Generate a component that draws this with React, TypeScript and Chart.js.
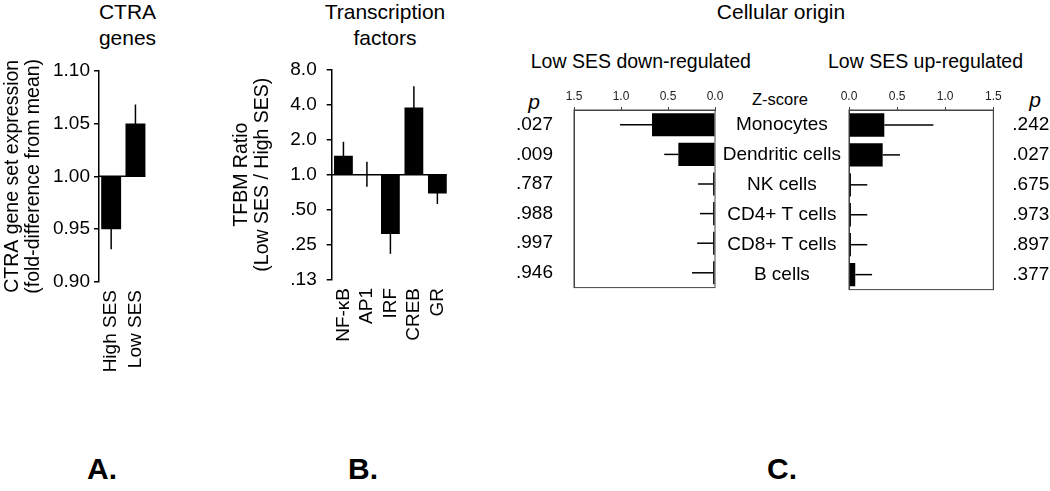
import React, { useEffect, useRef } from "react";
import { Chart, registerables } from "chart.js";

Chart.register(...registerables);

const FONT = "'Liberation Sans', Arial, Helvetica, sans-serif";
Chart.defaults.font.family = FONT;
Chart.defaults.color = "#000";

// ---------- Panel A: CTRA genes ----------
const ctraCategories = ["High SES", "Low SES"];
const ctraValues = [0.95, 1.05];
const ctraErrors = [0.019, 0.018];
const ctraTicks = [0.9, 0.95, 1.0, 1.05, 1.1];

// ---------- Panel B: Transcription factors ----------
const tfCategories = ["NF-κB", "AP1", "IRF", "CREB", "GR"];
const tfValues = [1.45, 1.01, 0.31, 3.77, 0.69];
const tfErrorFactors = [1.32, 1.28, 1.48, 1.52, 1.23];
const tfTicks = [0.125, 0.25, 0.5, 1, 2, 4, 8];
const tfTickLabels = [".13", ".25", ".50", "1.0", "2.0", "4.0", "8.0"];

// ---------- Panel C: Cellular origin ----------
const cellTypes = ["Monocytes", "Dendritic cells", "NK cells", "CD4+ T cells", "CD8+ T cells", "B cells"];
const downZ = [0.67, 0.39, 0.02, 0.02, 0.02, 0.02];
const downErr = [0.34, 0.15, 0.16, 0.14, 0.17, 0.225];
const downP = [".027", ".009", ".787", ".988", ".997", ".946"];
const upZ = [0.367, 0.35, 0.02, 0.02, 0.02, 0.065];
const upErr = [0.51, 0.18, 0.17, 0.17, 0.17, 0.175];
const upP = [".242", ".027", ".675", ".973", ".897", ".377"];
const zTicks = [0, 0.5, 1, 1.5];

function vErrPlugin(lo: number[], hi: number[]) {
  return {
    id: "vErr",
    afterDatasetsDraw(chart: any) {
      const meta = chart.getDatasetMeta(0);
      const ys = chart.scales.y;
      const ctx = chart.ctx;
      ctx.save();
      ctx.strokeStyle = "#000";
      ctx.lineWidth = 1.5;
      meta.data.forEach((bar: any, i: number) => {
        ctx.beginPath();
        ctx.moveTo(bar.x, ys.getPixelForValue(lo[i]));
        ctx.lineTo(bar.x, ys.getPixelForValue(hi[i]));
        ctx.stroke();
      });
      ctx.restore();
    },
  };
}

function hErrPlugin(lo: number[], hi: number[]) {
  return {
    id: "hErr",
    afterDatasetsDraw(chart: any) {
      const meta = chart.getDatasetMeta(0);
      const xs = chart.scales.x;
      const ctx = chart.ctx;
      ctx.save();
      ctx.strokeStyle = "#000";
      ctx.lineWidth = 1.5;
      meta.data.forEach((bar: any, i: number) => {
        ctx.beginPath();
        ctx.moveTo(xs.getPixelForValue(lo[i]), bar.y);
        ctx.lineTo(xs.getPixelForValue(hi[i]), bar.y);
        ctx.stroke();
      });
      ctx.restore();
    },
  };
}

function baselinePlugin(base: number) {
  return {
    id: "baseline",
    afterDatasetsDraw(chart: any) {
      const meta = chart.getDatasetMeta(0);
      const last = meta.data[meta.data.length - 1];
      const y = chart.scales.y.getPixelForValue(base);
      const ctx = chart.ctx;
      ctx.save();
      ctx.strokeStyle = "#000";
      ctx.lineWidth = 1.5;
      ctx.beginPath();
      ctx.moveTo(chart.chartArea.left, y);
      ctx.lineTo(last.x + last.width / 2, y);
      ctx.stroke();
      ctx.restore();
    },
  };
}

const boxPlugin = {
  id: "box",
  afterDraw(chart: any) {
    const { left, top, right, bottom } = chart.chartArea;
    const ctx = chart.ctx;
    ctx.save();
    ctx.strokeStyle = "#444";
    ctx.lineWidth = 1;
    ctx.strokeRect(left, top, right - left, bottom - top);
    ctx.restore();
  },
};

function ChartBox(props: { left: number; top: number; width: number; height: number; make: () => any }) {
  const ref = useRef<HTMLCanvasElement>(null);
  useEffect(() => {
    const chart = new Chart(ref.current as HTMLCanvasElement, props.make());
    return () => chart.destroy();
  }, []);
  return (
    <canvas
      ref={ref}
      width={props.width}
      height={props.height}
      style={{ position: "absolute", left: props.left, top: props.top, width: props.width, height: props.height }}
    />
  );
}

const commonPlugins = { legend: { display: false }, tooltip: { enabled: false }, title: { display: false } };

function makeA() {
  return {
    type: "bar",
    data: {
      labels: ctraCategories,
      datasets: [
        {
          data: ctraValues.map((v) => [1, v]),
          backgroundColor: "#000",
          borderWidth: 0,
          barPercentage: 0.82,
          categoryPercentage: 1,
        },
      ],
    },
    options: {
      animation: false,
      responsive: false,
      maintainAspectRatio: false,
      layout: { padding: { left: 0, right: 15, top: 70.7, bottom: 0 } },
      plugins: commonPlugins,
      scales: {
        x: {
          grid: { display: false, drawTicks: false },
          border: { display: false },
          ticks: { minRotation: 90, maxRotation: 90, autoSkip: false, padding: 8, color: "#000", font: { size: 19 } },
          afterFit: (s: any) => {
            s.height = 372 - 282;
          },
        },
        y: {
          min: 0.9,
          max: 1.1,
          afterBuildTicks: (s: any) => {
            s.ticks = ctraTicks.map((v) => ({ value: v }));
          },
          ticks: { callback: (v: any) => Number(v).toFixed(2), padding: 4, color: "#000", font: { size: 19 } },
          grid: { drawOnChartArea: false, tickLength: 5, color: "#000", lineWidth: 1.5 },
          border: { color: "#000", width: 1.5 },
          title: {
            display: true,
            text: ["CTRA gene set expression", "(fold-difference from mean)"],
            color: "#000",
            font: { size: 19.5, lineHeight: 1.1 },
            padding: { top: 1.5, bottom: 0 },
          },
          afterFit: (s: any) => {
            s.width = 99;
          },
        },
      },
    },
    plugins: [
      baselinePlugin(1),
      vErrPlugin(
        ctraValues.map((v, i) => v - ctraErrors[i]),
        ctraValues.map((v, i) => v + ctraErrors[i])
      ),
    ],
  };
}

function makeB() {
  return {
    type: "bar",
    data: {
      labels: tfCategories,
      datasets: [
        {
          data: tfValues.map((v) => [1, v]),
          backgroundColor: "#000",
          borderWidth: 0,
          barPercentage: 0.8,
          categoryPercentage: 1,
        },
      ],
    },
    options: {
      animation: false,
      responsive: false,
      maintainAspectRatio: false,
      layout: { padding: { left: 0, right: 18.3, top: 69.3, bottom: 0 } },
      plugins: commonPlugins,
      scales: {
        x: {
          grid: { display: false, drawTicks: false },
          border: { display: false },
          ticks: { minRotation: 90, maxRotation: 90, autoSkip: false, padding: 8, color: "#000", font: { size: 19 } },
          afterFit: (s: any) => {
            s.height = 372 - 280;
          },
        },
        y: {
          type: "logarithmic",
          min: 0.125,
          max: 8,
          afterBuildTicks: (s: any) => {
            s.ticks = tfTicks.map((v) => ({ value: v }));
          },
          ticks: { callback: (_v: any, i: number) => tfTickLabels[i], padding: 10, color: "#000", font: { size: 19 } },
          grid: { drawOnChartArea: false, tickLength: 5, color: "#000", lineWidth: 1.5 },
          border: { color: "#000", width: 1.5 },
          title: {
            display: true,
            text: ["TFBM Ratio", "(Low SES / High SES)"],
            color: "#000",
            font: { size: 19.5, lineHeight: 1.1 },
            padding: { top: 10.5, bottom: 0 },
          },
          afterFit: (s: any) => {
            s.width = 111.7;
          },
        },
      },
    },
    plugins: [
      baselinePlugin(1),
      vErrPlugin(
        tfValues.map((v, i) => v / tfErrorFactors[i]),
        tfValues.map((v, i) => v * tfErrorFactors[i])
      ),
    ],
  };
}

function zAxis(reverse: boolean) {
  return {
    type: "linear",
    position: "top",
    reverse,
    min: 0,
    max: 1.5,
    afterBuildTicks: (s: any) => {
      s.ticks = zTicks.map((v) => ({ value: v }));
    },
    ticks: { callback: (v: any) => Number(v).toFixed(1), padding: 3, color: "#222", font: { size: 12 } },
    grid: { drawOnChartArea: false, tickLength: 3, color: "#444", lineWidth: 1 },
    border: { display: true, color: "#444", width: 1 },
    afterFit: (s: any) => {
      s.height = 50;
    },
  };
}

function makeCLeft() {
  return {
    type: "bar",
    data: {
      labels: cellTypes,
      datasets: [
        {
          data: downZ,
          backgroundColor: "#000",
          borderWidth: 0,
          barPercentage: 0.78,
          categoryPercentage: 1,
          xAxisID: "x",
          yAxisID: "y",
        },
      ],
    },
    options: {
      indexAxis: "y",
      animation: false,
      responsive: false,
      maintainAspectRatio: false,
      layout: { padding: { left: 0, right: 25, top: 0, bottom: 4.3 } },
      plugins: commonPlugins,
      scales: {
        x: zAxis(true),
        y: {
          type: "category",
          labels: downP,
          position: "left",
          offset: true,
          grid: { display: false, drawTicks: false },
          border: { display: true, color: "#444", width: 1 },
          ticks: { padding: 21, color: "#000", font: { size: 19 } },
          afterFit: (s: any) => {
            s.width = 74;
          },
        },
      },
    },
    plugins: [boxPlugin, hErrPlugin(downZ, downZ.map((v, i) => v + downErr[i]))],
  };
}

function makeCRight() {
  return {
    type: "bar",
    data: {
      labels: cellTypes,
      datasets: [
        {
          data: upZ,
          backgroundColor: "#000",
          borderWidth: 0,
          barPercentage: 0.78,
          categoryPercentage: 1,
          xAxisID: "x",
          yAxisID: "y",
        },
      ],
    },
    options: {
      indexAxis: "y",
      animation: false,
      responsive: false,
      maintainAspectRatio: false,
      layout: { padding: { left: 0, right: 0, top: 0, bottom: 4.3 } },
      plugins: commonPlugins,
      scales: {
        x: zAxis(false),
        y: {
          type: "category",
          position: "left",
          offset: true,
          grid: { display: false, drawTicks: false },
          border: { display: true, color: "#444", width: 1 },
          ticks: { crossAlign: "center", padding: 8, color: "#000", font: { size: 19 } },
          afterFit: (s: any) => {
            s.width = 149;
          },
        },
        y2: {
          type: "category",
          labels: upP,
          position: "right",
          offset: true,
          grid: { display: false, drawTicks: false },
          border: { display: true, color: "#444", width: 1 },
          ticks: { padding: 19, color: "#000", font: { size: 19 } },
          afterFit: (s: any) => {
            s.width = 56.7;
          },
        },
      },
    },
    plugins: [boxPlugin, hErrPlugin(upZ, upZ.map((v, i) => v + upErr[i]))],
  };
}

function Text(props: {
  cx?: number;
  left?: number;
  cy: number;
  size: number;
  lh?: number;
  bold?: boolean;
  italic?: boolean;
  children: any;
}) {
  const lh = props.lh ?? Math.round(props.size * 1.2);
  const centered = props.cx !== undefined;
  return (
    <div
      style={{
        position: "absolute",
        left: centered ? (props.cx as number) - 200 : props.left,
        width: centered ? 400 : undefined,
        top: props.cy - lh / 2,
        lineHeight: lh + "px",
        fontSize: props.size,
        fontWeight: props.bold ? 700 : 400,
        fontStyle: props.italic ? "italic" : "normal",
        textAlign: centered ? "center" : "left",
        whiteSpace: "nowrap",
        color: "#000",
        fontFamily: FONT,
      }}
    >
      {props.children}
    </div>
  );
}

export default function App() {
  return (
    <div
      style={{
        position: "absolute",
        left: 0,
        top: 0,
        width: 1050,
        height: 491,
        background: "#fff",
        overflow: "hidden",
        fontFamily: FONT,
      }}
    >
      {/* Titles */}
      <Text cx={127.5} cy={12} size={21} lh={25.5}>
        CTRA
        <br />
        genes
      </Text>
      <Text cx={385} cy={12} size={21} lh={25.5}>
        Transcription
        <br />
        factors
      </Text>
      <Text cx={781} cy={12} size={21} lh={25.5}>
        Cellular origin
      </Text>
      <Text cx={640.8} cy={61.7} size={19.5}>
        Low SES down-regulated
      </Text>
      <Text cx={925.5} cy={61.7} size={19.5}>
        Low SES up-regulated
      </Text>
      <Text cx={780} cy={99} size={16.5}>
        Z-score
      </Text>
      <Text cx={534} cy={101.5} size={21} italic>
        p
      </Text>
      <Text cx={1035} cy={99} size={21} italic>
        p
      </Text>

      <ChartBox left={0} top={0} width={170} height={372} make={makeA} />
      <ChartBox left={220} top={0} width={250} height={372} make={makeB} />
      <ChartBox left={500} top={60} width={240} height={260} make={makeCLeft} />
      <ChartBox left={700} top={60} width={350} height={260} make={makeCRight} />

      {/* Panel letters */}
      <Text left={87} cy={469} size={30} bold>
        A.
      </Text>
      <Text left={348} cy={469} size={30} bold>
        B.
      </Text>
      <Text left={767} cy={469} size={30} bold>
        C.
      </Text>
    </div>
  );
}
